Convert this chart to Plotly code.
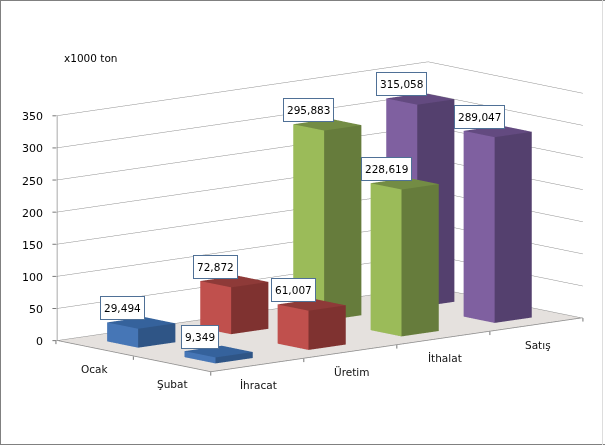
import math
import plotly.graph_objects as go

categories = ["İhracat", "Üretim", "İthalat", "Satış"]
months = ["Şubat", "Ocak"]  # front row first
ocak = [29.494, 72.872, 295.883, 315.058]
subat = [9.349, 61.007, 228.619, 289.047]
series_values = [subat, ocak]
z_ticks = [0, 50, 100, 150, 200, 250, 300, 350]
y_unit = "x1000 ton"
bar_colors = [
    {"left": "#4676b6", "right": "#2f5586", "top": "#35629c"},
    {"left": "#c0504d", "right": "#7f3230", "top": "#8e3a38"},
    {"left": "#9bbb59", "right": "#667c3c", "top": "#738c44"},
    {"left": "#7f60a0", "right": "#54406e", "top": "#634a80"},
]

BAR = 0.4
FONT = "DejaVu Sans"
AZ = math.radians(40.2)
EL = math.radians(9.9)
D = 2.0
NX, NY = len(categories), len(months)
ZMAX = z_ticks[-1]
EDGE = "#8c8c8c"
TICK = "#777777"
INSET = 0.006

fig = go.Figure()
for row, vals in enumerate(series_values):
    for c, v in enumerate(vals):
        x0, x1 = c + 0.5 - BAR / 2, c + 0.5 + BAR / 2
        y0, y1 = row + 0.5 - BAR / 2, row + 0.5 + BAR / 2
        col = bar_colors[c]
        fig.add_trace(go.Mesh3d(
            x=[x0, x1, x1, x0, x0, x1, x1, x0],
            y=[y0, y0, y1, y1, y0, y0, y1, y1],
            z=[0, 0, 0, 0, v, v, v, v],
            i=[0, 0, 4, 4, 0, 0, 3, 3, 1, 1, 0, 0],
            j=[1, 5, 5, 6, 3, 7, 2, 6, 2, 6, 1, 2],
            k=[5, 4, 6, 7, 7, 4, 6, 7, 6, 5, 2, 3],
            facecolor=[col["right"]] * 2 + [col["top"]] * 2 + [col["left"]] * 2
            + [col["left"]] * 2 + [col["right"]] * 2 + [col["top"]] * 2,
            flatshading=True,
            lighting=dict(ambient=1, diffuse=0, specular=0, roughness=1, fresnel=0),
            hoverinfo="skip",
            showscale=False,
        ))

# axis lines: left wall edge and the two front floor edges
fig.add_trace(go.Scatter3d(x=[INSET, INSET], y=[NY - INSET, NY - INSET], z=[0, ZMAX], mode="lines",
                           line=dict(color=EDGE, width=1.5), hoverinfo="skip"))
fig.add_trace(go.Scatter3d(x=[INSET, INSET, NX], y=[NY, INSET, INSET], z=[0.5, 0.5, 0.5], mode="lines",
                           line=dict(color=EDGE, width=1.5), hoverinfo="skip"))

annotations = []
for row, vals in enumerate(series_values):
    for c, v in enumerate(vals):
        annotations.append(dict(
            x=c + 0.5, y=row + 0.5, z=v,
            text=f"{v:.3f}".replace(".", ","),
            showarrow=False, xshift=-18.5, yshift=14.5, height=16,
            font=dict(family=FONT, size=10.5, color="#000000"),
            bgcolor="#ffffff", bordercolor="#4f7096", borderwidth=1, borderpad=3,
        ))
for c, name in enumerate(categories):
    annotations.append(dict(x=c + 0.5, y=0, z=0, text=name, showarrow=False, xshift=1.5, yshift=-20,
                            font=dict(family=FONT, size=10.5, color="#111111")))
for row, name in enumerate(months):
    annotations.append(dict(x=0, y=row + 0.5, z=0, text=name, showarrow=False, yshift=-20,
                            font=dict(family=FONT, size=10.5, color="#111111")))
for t in z_ticks:
    annotations.append(dict(x=0, y=NY, z=t, text=str(t), showarrow=False, xanchor="right",
                            xshift=-11, yshift=-1,
                            font=dict(family=FONT, size=11, color="#000000")))
    annotations.append(dict(x=0, y=NY, z=t, text="", showarrow=True, arrowhead=0, ax=-5, ay=0,
                            arrowcolor=TICK, arrowwidth=1))
for c in range(NX + 1):
    annotations.append(dict(x=c, y=0, z=0, text="", showarrow=True, arrowhead=0, ax=0, ay=5,
                            arrowcolor=TICK, arrowwidth=1))
for row in range(1, NY + 1):
    annotations.append(dict(x=0, y=row, z=0, text="", showarrow=True, arrowhead=0, ax=0, ay=5,
                            arrowcolor=TICK, arrowwidth=1))

axis_common = dict(title="", showspikes=False, zeroline=False, showgrid=False,
                   showticklabels=False, showbackground=False, showline=False, ticks="")

fig.update_layout(
    width=605, height=445,
    margin=dict(l=0, r=0, t=0, b=0),
    paper_bgcolor="#ffffff",
    showlegend=False,
    font=dict(family=FONT, size=11, color="#000000"),
    scene=dict(
        domain=dict(x=[0.056, 1], y=[0.025, 1]),
        aspectmode="manual",
        aspectratio=dict(x=2.245, y=1.105, z=1.052),
        camera=dict(
            projection=dict(type="orthographic"),
            up=dict(x=0, y=0, z=1),
            center=dict(x=0, y=0, z=0),
            eye=dict(x=-D * math.sin(AZ) * math.cos(EL),
                     y=-D * math.cos(AZ) * math.cos(EL),
                     z=D * math.sin(EL)),
        ),
        xaxis=dict(axis_common, range=[0, NX]),
        yaxis=dict(axis_common, range=[0, NY]),
        zaxis=dict(axis_common, range=[0, ZMAX], tickvals=z_ticks, showgrid=True,
                   gridcolor="#8f8f8f", gridwidth=1,
                   showbackground=True, backgroundcolor="#e5e1de"),
        annotations=annotations,
    ),
    annotations=[dict(xref="paper", yref="paper", x=62 / 605, y=1 - 58 / 445, text=y_unit,
                      showarrow=False, xanchor="left", yanchor="middle",
                      font=dict(family=FONT, size=10.5, color="#000000"))],
    shapes=[
        dict(type="line", xref="paper", yref="paper", x0=0, x1=1, y0=1, y1=1,
             line=dict(color="#808080", width=2)),
        dict(type="line", xref="paper", yref="paper", x0=0, x1=1, y0=0, y1=0,
             line=dict(color="#808080", width=2)),
        dict(type="line", xref="paper", yref="paper", x0=0, x1=0, y0=0, y1=1,
             line=dict(color="#808080", width=2)),
        dict(type="line", xref="paper", yref="paper", x0=602.5 / 605, x1=602.5 / 605, y0=0, y1=1,
             line=dict(color="#dddddd", width=1)),
    ],
)

fig.write_html("out.html", config=dict(displayModeBar=False),
               post_script="document.body.style.margin='0';document.body.style.overflow='hidden';")
